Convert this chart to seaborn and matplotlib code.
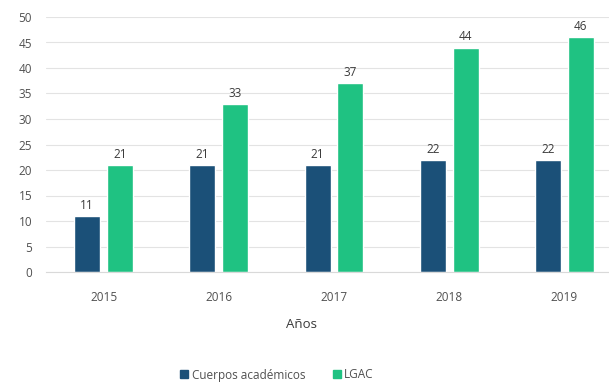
import pandas as pd
import matplotlib.pyplot as plt
import seaborn as sns
from matplotlib.lines import Line2D

# data
years = ["2015", "2016", "2017", "2018", "2019"]
cuerpos = [11, 21, 21, 22, 22]
lgac = [21, 33, 37, 44, 46]
series_names = ["Cuerpos académicos", "LGAC"]
colors = ["#1B5078", "#1FC282"]

df = pd.DataFrame({
    "year": years * 2,
    "value": cuerpos + lgac,
    "serie": [series_names[0]] * len(years) + [series_names[1]] * len(years),
})

sns.set_style("white")
plt.rcParams["font.family"] = ["Open Sans", "DejaVu Sans"]
text_col = "#505050"

fig = plt.figure(figsize=(6.09, 3.83), dpi=100)
ax = fig.add_axes([46 / 609, 111 / 383, 576 / 609, 255 / 383])

sns.barplot(data=df, x="year", y="value", hue="serie", palette=colors,
            width=0.57, gap=0.21, ax=ax, legend=False, saturation=1)

for cont in ax.containers:
    ax.bar_label(cont, padding=3, fontsize=8.5, color="#3a3a3a")

ax.set_xlim(-0.5, 4.5)
ax.set_ylim(0, 50)
ax.set_yticks(range(0, 51, 5))
ax.grid(axis="y", color="#e3e3e3", linewidth=0.8)
ax.set_axisbelow(True)
for s in ["top", "right", "left"]:
    ax.spines[s].set_visible(False)
ax.spines["bottom"].set_color("#d9d9d9")
ax.tick_params(axis="both", length=0, labelsize=8.5, colors=text_col, pad=10)
ax.tick_params(axis="x", pad=14)
ax.set_ylabel("")
ax.set_xlabel("")

fig.text(302 / 609, 1 - 325 / 383, "Años", ha="center", va="center",
         fontsize=9.5, color="#3a3a3a")

handles = [Line2D([], [], marker="s", linestyle="", color=c, markersize=6)
           for c in colors]
fig.legend(handles, series_names, loc="center", bbox_to_anchor=(276 / 609, 1 - 375 / 383),
           ncol=2, frameon=False, fontsize=8.5, labelcolor=text_col,
           handletextpad=0.1, columnspacing=2.2, handlelength=1.0)

fig.savefig("out.png", dpi=100)
